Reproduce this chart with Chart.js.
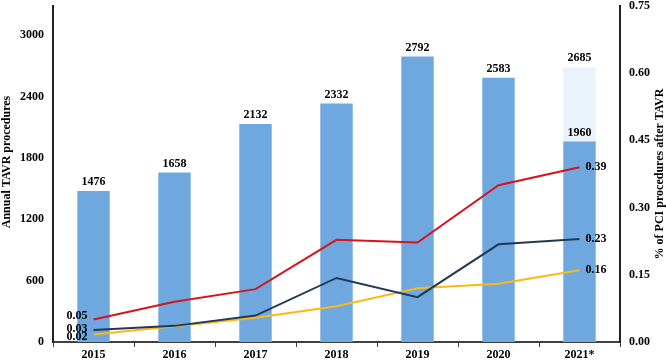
<!DOCTYPE html>
<html>
<head>
<meta charset="utf-8">
<script src="https://cdn.jsdelivr.net/npm/chart.js@4/dist/chart.umd.min.js"></script>
<style>
html,body{margin:0;padding:0;background:#fff;}
#wrap{width:666px;height:361px;}
</style>
</head>
<body>
<div id="wrap"><canvas id="c" width="666" height="361"></canvas></div>
<script>
const years = ['2015','2016','2017','2018','2019','2020','2021*'];
const tavrProcedures = [1476, 1658, 2132, 2332, 2792, 2583, 1960];
const tavrProjected = [null, null, null, null, null, null, 2685];
const pciRed = [0.05, 0.09, 0.118, 0.228, 0.222, 0.35, 0.39];
const pciNavy = [0.027, 0.036, 0.059, 0.143, 0.10, 0.218, 0.23];
const pciYellow = [0.017, 0.035, 0.054, 0.08, 0.12, 0.13, 0.16];
const leftTicks = [0, 600, 1200, 1800, 2400, 3000];
const rightTicks = [0, 0.15, 0.30, 0.45, 0.60, 0.75];

const FONT = '"Liberation Serif", "Times New Roman", serif';

const labelPlugin = {
  id: 'customLabels',
  afterDatasetsDraw(chart) {
    const ctx = chart.ctx;
    ctx.save();
    ctx.font = 'bold 12px ' + FONT;
    ctx.fillStyle = '#000';
    chart.data.datasets.forEach((ds, di) => {
      if (ds.type !== 'bar') return;
      const meta = chart.getDatasetMeta(di);
      meta.data.forEach((el, i) => {
        const v = ds.data[i];
        if (v == null) return;
        ctx.textAlign = 'center';
        ctx.textBaseline = 'bottom';
        ctx.fillText(String(v), el.x, el.y - 3);
      });
    });
    chart.data.datasets.forEach((ds, di) => {
      if (ds.type !== 'line') return;
      const meta = chart.getDatasetMeta(di);
      const first = meta.data[0], last = meta.data[meta.data.length - 1];
      ctx.textBaseline = 'middle';
      ctx.textAlign = 'right';
      ctx.fillText(ds.data[0].toFixed(2), first.x - 6, first.y + (ds.startOffset || 0));
      ctx.textAlign = 'left';
      ctx.fillText(ds.data[ds.data.length - 1].toFixed(2), last.x + 6, last.y);
    });
    ctx.restore();
  },
  afterDraw(chart) {
    const ctx = chart.ctx;
    const ca = chart.chartArea;
    const cy = (ca.top + ca.bottom) / 2;
    ctx.save();
    ctx.font = 'bold 12px ' + FONT;
    ctx.fillStyle = '#000';
    ctx.textAlign = 'center';
    ctx.textBaseline = 'middle';
    ctx.translate(7, cy - 12);
    ctx.rotate(-Math.PI / 2);
    ctx.fillText('Annual TAVR procedures', 0, 0);
    ctx.restore();
    ctx.save();
    ctx.font = 'bold 12px ' + FONT;
    ctx.fillStyle = '#000';
    ctx.textAlign = 'center';
    ctx.textBaseline = 'middle';
    ctx.translate(660, cy);
    ctx.rotate(-Math.PI / 2);
    ctx.fillText('% of PCI procedures after TAVR', 0, 0);
    ctx.restore();
  }
};

function noPad(s) { s.paddingTop = 0; s.paddingBottom = 0; }

new Chart(document.getElementById('c'), {
  data: {
    labels: years,
    datasets: [
      { type: 'line', data: pciRed, borderColor: '#D7141E', borderWidth: 2, pointRadius: 0, yAxisID: 'y2', order: 0, tension: 0, startOffset: -4 },
      { type: 'line', data: pciNavy, borderColor: '#1F3A56', borderWidth: 2, pointRadius: 0, yAxisID: 'y2', order: 0, tension: 0, startOffset: -1 },
      { type: 'line', data: pciYellow, borderColor: '#FDB813', borderWidth: 2, pointRadius: 0, yAxisID: 'y2', order: 0, tension: 0, startOffset: 3 },
      { type: 'bar', data: tavrProcedures, backgroundColor: '#6FA8DF', yAxisID: 'y', order: 1, grouped: false, barPercentage: 0.4, categoryPercentage: 1 },
      { type: 'bar', data: tavrProjected, backgroundColor: '#EAF2FB', yAxisID: 'y', order: 2, grouped: false, barPercentage: 0.4, categoryPercentage: 1 }
    ]
  },
  options: {
    responsive: false,
    animation: false,
    devicePixelRatio: 1,
    layout: { padding: { top: 6, left: 0, right: 0, bottom: 0 } },
    plugins: { legend: { display: false }, tooltip: { enabled: false } },
    scales: {
      x: {
        grid: { display: true, drawOnChartArea: false, offset: true, tickLength: 5, color: '#404040', lineWidth: 1 },
        border: { display: true, color: '#404040', width: 2 },
        ticks: { color: '#000', font: { family: FONT, size: 12, weight: 'bold' }, padding: 1, maxRotation: 0 },
        afterFit(s) { s.height = 19; s.paddingLeft = 0; s.paddingRight = 0; }
      },
      y: {
        position: 'left',
        min: 0, max: 3285,
        afterBuildTicks(s) { s.ticks = leftTicks.map(v => ({ value: v })); },
        grid: { display: false },
        border: { display: true, color: '#222', width: 2 },
        ticks: { color: '#000', font: { family: FONT, size: 12, weight: 'bold' }, padding: 1, callback: v => String(v) },
        afterFit(s) { s.width = 53; noPad(s); }
      },
      y2: {
        position: 'right',
        min: 0, max: 0.75,
        afterBuildTicks(s) { s.ticks = rightTicks.map(v => ({ value: v })); },
        grid: { display: false },
        border: { display: true, color: '#222', width: 2 },
        ticks: { color: '#000', font: { family: FONT, size: 12, weight: 'bold' }, padding: 1, callback: v => Number(v).toFixed(2) },
        afterFit(s) { s.width = 46; noPad(s); }
      }
    }
  },
  plugins: [labelPlugin]
});
</script>
</body>
</html>
